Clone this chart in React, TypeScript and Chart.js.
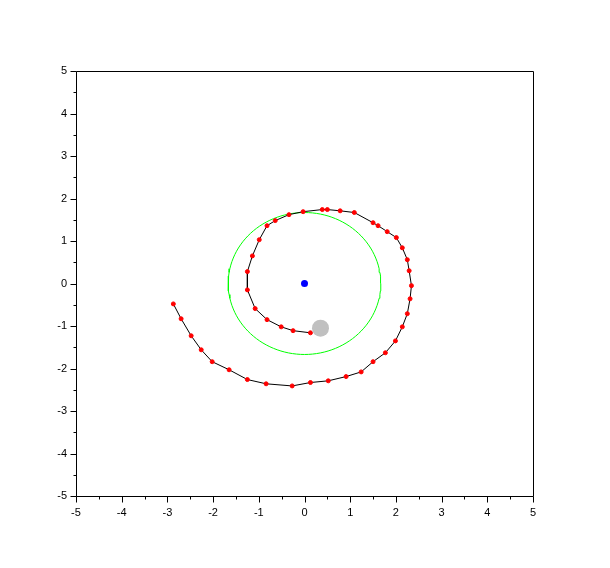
import React, { useEffect, useRef } from "react";
import { Chart, registerables } from "chart.js";

Chart.register(...registerables);

// Spiral trajectory (x, y), in drawing order
const spiralX = [
  -2.87, -2.70, -2.48, -2.26, -2.02, -1.65, -1.25, -0.84, -0.27, 0.13,
  0.52, 0.91, 1.24, 1.50, 1.77, 1.99, 2.14, 2.25, 2.31, 2.34,
  2.29, 2.25, 2.14, 2.01, 1.81, 1.61, 1.50, 1.09, 0.78, 0.50,
  0.39, -0.03, -0.34, -0.64, -0.82, -0.99, -1.14, -1.25, -1.25, -1.08,
  -0.82, -0.51, -0.25, 0.13,
];
const spiralY = [
  -0.48, -0.83, -1.23, -1.56, -1.84, -2.03, -2.26, -2.36, -2.41, -2.33,
  -2.29, -2.19, -2.08, -1.84, -1.63, -1.35, -1.02, -0.71, -0.36, -0.05,
  0.30, 0.56, 0.84, 1.08, 1.22, 1.36, 1.43, 1.67, 1.71, 1.74,
  1.74, 1.69, 1.62, 1.48, 1.36, 1.03, 0.65, 0.28, -0.15, -0.59,
  -0.85, -1.02, -1.11, -1.16,
];

// Attracting centre and moving ball
const centerX = [0];
const centerY = [0];
const ballX = [0.35];
const ballY = [-1.05];

// Green reference circle
const orbitCenter = [0, 0];
const orbitRadius = 1.67;
const orbitSegments = 120;

// Axis
const axisMin = -5;
const axisMax = 5;
const tickStep = 1;
const minorStep = 0.5;

const scilabAxes = {
  id: "scilabAxes",
  afterDatasetsDraw(chart: any) {
    const { ctx, chartArea, scales } = chart;
    const { left, right, top, bottom } = chartArea;
    const xs = scales.x;
    const ys = scales.y;
    ctx.save();
    ctx.strokeStyle = "#000";
    ctx.lineWidth = 1;
    const L = Math.round(left) + 0.5;
    const R = Math.round(right) + 0.5;
    const T = Math.round(top) + 0.5;
    const B = Math.round(bottom) + 0.5;
    ctx.beginPath();
    ctx.moveTo(L, T);
    ctx.lineTo(R, T);
    ctx.lineTo(R, B);
    ctx.lineTo(L, B);
    ctx.closePath();
    ctx.stroke();
    ctx.beginPath();
    for (let v = axisMin; v <= axisMax + 1e-9; v += minorStep) {
      const major = Math.abs(v - Math.round(v)) < 1e-9;
      const len = major ? 6 : 3;
      const px = Math.round(xs.getPixelForValue(v)) + 0.5;
      ctx.moveTo(px, B);
      ctx.lineTo(px, B + len);
      const py = Math.round(ys.getPixelForValue(v)) + 0.5;
      ctx.moveTo(L, py);
      ctx.lineTo(L - len, py);
    }
    ctx.stroke();
    ctx.restore();
  },
};

export default function App() {
  const ref = useRef<HTMLCanvasElement | null>(null);

  useEffect(() => {
    if (!ref.current) return;
    const spiral = spiralX.map((x, i) => ({ x, y: spiralY[i] }));
    const circle = [] as { x: number; y: number }[];
    for (let i = 0; i <= orbitSegments; i++) {
      const a = (i / orbitSegments) * Math.PI * 2;
      circle.push({
        x: orbitCenter[0] + orbitRadius * Math.cos(a),
        y: orbitCenter[1] + orbitRadius * Math.sin(a),
      });
    }
    const center = centerX.map((x, i) => ({ x, y: centerY[i] }));
    const ball = ballX.map((x, i) => ({ x, y: ballY[i] }));

    const font = { family: "'Liberation Sans', Arial, sans-serif", size: 11 };

    const chart = new Chart(ref.current, {
      type: "scatter",
      data: {
        datasets: [
          {
            data: ball,
            pointRadius: 8.5,
            pointBackgroundColor: "#c0c0c0",
            pointBorderColor: "#c0c0c0",
            pointBorderWidth: 0,
            showLine: false,
            order: 0,
          },
          {
            data: center,
            pointRadius: 3.5,
            pointBackgroundColor: "#0000ff",
            pointBorderColor: "#0000ff",
            pointBorderWidth: 0,
            showLine: false,
            order: 1,
          },
          {
            data: spiral,
            showLine: true,
            borderColor: "#000000",
            borderWidth: 1,
            tension: 0,
            pointRadius: 2,
            pointBackgroundColor: "#ff0000",
            pointBorderColor: "#ff0000",
            pointBorderWidth: 1,
            order: 2,
          },
          {
            data: circle,
            showLine: true,
            borderColor: "#00ff00",
            borderWidth: 1,
            tension: 0,
            pointRadius: 0,
            order: 3,
          },
        ],
      },
      options: {
        animation: false,
        responsive: false,
        events: [],
        layout: { padding: { left: 0, top: 71, right: 77, bottom: 0 } },
        plugins: { legend: { display: false }, tooltip: { enabled: false } },
        scales: {
          x: {
            type: "linear",
            min: axisMin,
            max: axisMax,
            grid: { display: false, drawTicks: false },
            border: { display: false },
            ticks: {
              stepSize: tickStep,
              autoSkip: false,
              maxRotation: 0,
              padding: 10,
              color: "#000",
              font,
            },
            afterFit(scale: any) {
              scale.height = 72;
            },
          },
          y: {
            type: "linear",
            min: axisMin,
            max: axisMax,
            grid: { display: false, drawTicks: false },
            border: { display: false },
            ticks: {
              stepSize: tickStep,
              autoSkip: false,
              padding: 9,
              color: "#000",
              font,
            },
            afterFit(scale: any) {
              scale.width = 76;
            },
          },
        },
      },
      plugins: [scilabAxes],
    } as any);
    return () => chart.destroy();
  }, []);

  return (
    <div style={{ position: "absolute", left: 0, top: 0, width: 610, height: 568, background: "#fff" }}>
      <canvas ref={ref} width={610} height={568} style={{ display: "block" }} />
    </div>
  );
}
